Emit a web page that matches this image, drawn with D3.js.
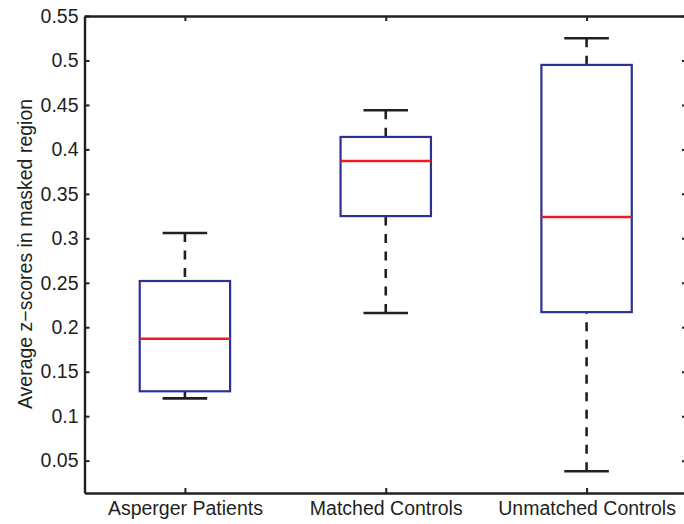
<!DOCTYPE html>
<html>
<head>
<meta charset="utf-8">
<script src="https://cdn.jsdelivr.net/npm/d3@7"></script>
<style>
  html, body { margin: 0; padding: 0; background: #fff; }
  svg { display: block; font-family: "Liberation Sans", Arial, Helvetica, sans-serif; }
</style>
</head>
<body>
<svg id="chart" width="684" height="524"></svg>
<script>
// boxplot summary per group
const categories = ["Asperger Patients", "Matched Controls", "Unmatched Controls"];
const lowerWhisker = [0.120, 0.216, 0.038];
const q1 = [0.128, 0.325, 0.217];
const medians = [0.187, 0.387, 0.324];
const q3 = [0.252, 0.414, 0.495];
const upperWhisker = [0.306, 0.444, 0.525];
const yTicks = [0.05, 0.1, 0.15, 0.2, 0.25, 0.3, 0.35, 0.4, 0.45, 0.5, 0.55];

const ink = '#231f20', blue = '#2e3192', red = '#ed1c24';
const fontSize = '19.5px';

const svg = d3.select('#chart');
const mLeft = 84.5, mRight = 687, mTop = 16, mBottom = 493;

const x = d3.scaleLinear().domain([0.5, 3.5]).range([mLeft, mRight]);
const y = d3.scaleLinear().domain([0.0136, 0.55]).range([mBottom, mTop]);

const boxHalf = 0.225, capHalf = 0.111;

const data = categories.map((c, i) => ({
  i: i + 1, lo: lowerWhisker[i], q1: q1[i], med: medians[i], q3: q3[i], hi: upperWhisker[i]
}));

const g = svg.append('g');

// whiskers (dashed, drawn from cap toward box)
g.selectAll('line.wup').data(data).join('line')
  .attr('class', 'wup')
  .attr('x1', d => x(d.i)).attr('x2', d => x(d.i))
  .attr('y1', d => y(d.hi)).attr('y2', d => y(d.q3))
  .attr('stroke', ink).attr('stroke-width', 2.6).attr('stroke-dasharray', '9,8.5');
g.selectAll('line.wlo').data(data).join('line')
  .attr('class', 'wlo')
  .attr('x1', d => x(d.i)).attr('x2', d => x(d.i))
  .attr('y1', d => y(d.lo)).attr('y2', d => y(d.q1))
  .attr('stroke', ink).attr('stroke-width', 2.6).attr('stroke-dasharray', '9,8.5');

// caps
['hi', 'lo'].forEach(k => {
  g.selectAll('line.cap-' + k).data(data).join('line')
    .attr('class', 'cap-' + k)
    .attr('x1', d => x(d.i - capHalf)).attr('x2', d => x(d.i + capHalf))
    .attr('y1', d => y(d[k])).attr('y2', d => y(d[k]))
    .attr('stroke', ink).attr('stroke-width', 2.6);
});

// boxes
g.selectAll('rect.box').data(data).join('rect')
  .attr('class', 'box')
  .attr('x', d => x(d.i - boxHalf))
  .attr('width', d => x(d.i + boxHalf) - x(d.i - boxHalf))
  .attr('y', d => y(d.q3))
  .attr('height', d => y(d.q1) - y(d.q3))
  .attr('fill', 'none').attr('stroke', blue).attr('stroke-width', 2.2);

// medians
g.selectAll('line.med').data(data).join('line')
  .attr('class', 'med')
  .attr('x1', d => x(d.i - boxHalf)).attr('x2', d => x(d.i + boxHalf))
  .attr('y1', d => y(d.med)).attr('y2', d => y(d.med))
  .attr('stroke', red).attr('stroke-width', 2.4);

// axes
function styleAxis(sel) {
  sel.select('.domain').attr('stroke', ink).attr('stroke-width', 2.4);
  sel.selectAll('.tick line').attr('stroke', ink).attr('stroke-width', 2);
  sel.selectAll('.tick text').attr('fill', ink).style('font-size', fontSize);
}

const yAxis = svg.append('g').attr('transform', `translate(${mLeft},0)`)
  .call(d3.axisLeft(y).tickValues(yTicks).tickSize(-5).tickSizeOuter(0)
    .tickPadding(6).tickFormat(d3.format('.2~f')));
styleAxis(yAxis);

const yAxisR = svg.append('g').attr('transform', `translate(${mRight},0)`)
  .call(d3.axisRight(y).tickValues(yTicks).tickSize(-5).tickSizeOuter(0).tickFormat(''));
styleAxis(yAxisR);

const xAxis = svg.append('g').attr('transform', `translate(0,${mBottom})`)
  .call(d3.axisBottom(x).tickValues([1, 2, 3]).tickSize(-5).tickSizeOuter(0)
    .tickPadding(8).tickFormat((d, i) => categories[i]));
styleAxis(xAxis);

const xAxisT = svg.append('g').attr('transform', `translate(0,${mTop})`)
  .call(d3.axisTop(x).tickValues([1, 2, 3]).tickSize(-5).tickSizeOuter(0).tickFormat(''));
styleAxis(xAxisT);

// y label
svg.append('text')
  .attr('transform', `translate(32,${(95 + 413) / 2}) rotate(-90)`)
  .attr('text-anchor', 'middle')
  .attr('fill', ink)
  .style('font-size', fontSize)
  .text('Average z\u2212scores in masked region');
</script>
</body>
</html>
